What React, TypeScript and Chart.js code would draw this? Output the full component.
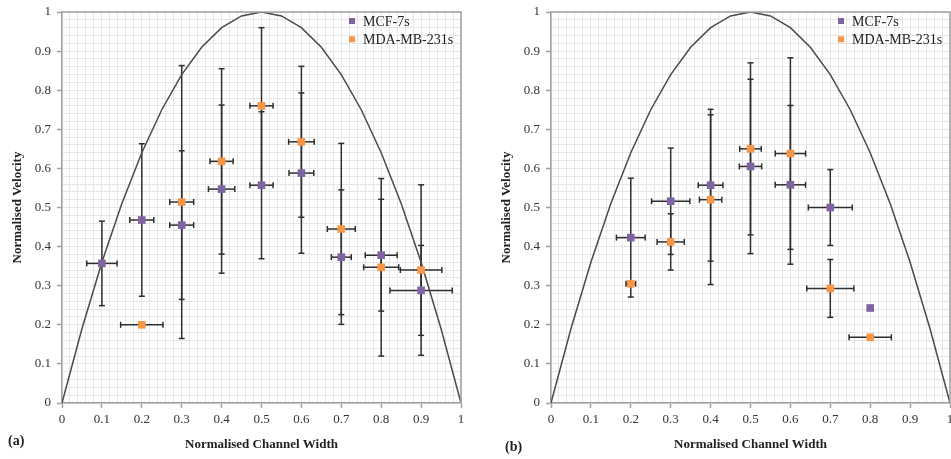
import React, { useEffect, useRef } from "react";
import { Chart, registerables } from "chart.js";

Chart.register(...registerables);

// ---- shared ----
const seriesNames = ["MCF-7s", "MDA-MB-231s"];
const seriesColors = ["#8064A2", "#F79646"];
const tickLabels = ["0", "0.1", "0.2", "0.3", "0.4", "0.5", "0.6", "0.7", "0.8", "0.9", "1"];
const xTitle = "Normalised Channel Width";
const yTitle = "Normalised Velocity";

// theoretical parabolic profile
const curveX = [0, 0.05, 0.1, 0.15, 0.2, 0.25, 0.3, 0.35, 0.4, 0.45, 0.5, 0.55, 0.6, 0.65, 0.7, 0.75, 0.8, 0.85, 0.9, 0.95, 1];
const curveY = [0, 0.19, 0.36, 0.51, 0.64, 0.75, 0.84, 0.91, 0.96, 0.99, 1, 0.99, 0.96, 0.91, 0.84, 0.75, 0.64, 0.51, 0.36, 0.19, 0];

// ---- panel (a) ----
const aMcfX = [0.1, 0.2, 0.3, 0.4, 0.5, 0.6, 0.7, 0.8, 0.9];
const aMcfY = [0.357, 0.468, 0.455, 0.547, 0.557, 0.588, 0.373, 0.378, 0.288];
const aMcfYErr = [0.108, 0.195, 0.19, 0.215, 0.188, 0.205, 0.172, 0.143, 0.115];
const aMcfXErr = [0.038, 0.03, 0.03, 0.033, 0.029, 0.031, 0.025, 0.04, 0.078];
const aMdaX = [0.2, 0.3, 0.4, 0.5, 0.6, 0.7, 0.8, 0.9];
const aMdaY = [0.2, 0.514, 0.618, 0.76, 0.668, 0.445, 0.347, 0.34];
const aMdaYErr = [0, 0.349, 0.237, 0.2, 0.193, 0.219, 0.227, 0.218];
const aMdaXErr = [0.053, 0.03, 0.029, 0.029, 0.032, 0.035, 0.044, 0.052];

// ---- panel (b) ----
const bMcfX = [0.2, 0.3, 0.4, 0.5, 0.6, 0.7, 0.8];
const bMcfY = [0.423, 0.516, 0.557, 0.605, 0.558, 0.5, 0.243];
const bMcfYErr = [0.152, 0.136, 0.194, 0.223, 0.203, 0.097, 0];
const bMcfXErr = [0.036, 0.048, 0.031, 0.028, 0.038, 0.055, 0];
const bMdaX = [0.2, 0.3, 0.4, 0.5, 0.6, 0.7, 0.8];
const bMdaY = [0.305, 0.412, 0.52, 0.65, 0.638, 0.293, 0.168];
const bMdaYErr = [0, 0.072, 0.217, 0.22, 0.245, 0.074, 0];
const bMdaXErr = [0.012, 0.034, 0.028, 0.027, 0.038, 0.059, 0.053];

const FONT = "'Liberation Serif', 'Times New Roman', serif";

const zip = (xs: number[], ys: number[]) => xs.map((x, i) => ({ x, y: ys[i] }));

const isMajor = (v: number) => Math.round(v * 50) % 5 === 0;

const errorBarPlugin = {
  id: "errorBars",
  beforeDatasetsDraw(chart: any) {
    const { ctx, scales } = chart;
    const xs = scales.x;
    const ys = scales.y;
    ctx.save();
    ctx.strokeStyle = "#2e2e2e";
    ctx.lineWidth = 1.5;
    const seg = (x1: number, y1: number, x2: number, y2: number) => {
      ctx.beginPath();
      ctx.moveTo(x1, y1);
      ctx.lineTo(x2, y2);
      ctx.stroke();
    };
    chart.data.datasets.forEach((ds: any) => {
      if (!ds.xErr) return;
      ds.data.forEach((p: any, i: number) => {
        const px = xs.getPixelForValue(p.x);
        const py = ys.getPixelForValue(p.y);
        const ye = ds.yErr[i];
        const xe = ds.xErr[i];
        if (ye > 0) {
          const t = ys.getPixelForValue(p.y + ye);
          const b = ys.getPixelForValue(p.y - ye);
          seg(px, t, px, b);
          seg(px - 3, t, px + 3, t);
          seg(px - 3, b, px + 3, b);
        }
        if (xe > 0) {
          const l = xs.getPixelForValue(p.x - xe);
          const r = xs.getPixelForValue(p.x + xe);
          seg(l, py, r, py);
          seg(l, py - 3, l, py + 3);
          seg(r, py - 3, r, py + 3);
        }
      });
    });
    ctx.restore();
  },
};

const frameLegendPlugin = {
  id: "frameLegend",
  afterDatasetsDraw(chart: any) {
    const { ctx, chartArea } = chart;
    ctx.save();
    ctx.strokeStyle = "#a0a0a0";
    ctx.lineWidth = 1.5;
    ctx.beginPath();
    ctx.moveTo(chartArea.left, chartArea.top);
    ctx.lineTo(chartArea.right, chartArea.top);
    ctx.lineTo(chartArea.right, chartArea.bottom);
    ctx.stroke();
    // legend
    ctx.font = `14px ${FONT}`;
    ctx.textBaseline = "middle";
    ctx.textAlign = "left";
    seriesNames.forEach((name, i) => {
      const mx = chartArea.right - 109;
      const my = chartArea.top + 9 + i * 18.3;
      ctx.fillStyle = seriesColors[i];
      ctx.fillRect(mx - 3, my - 3, 6, 6);
      ctx.fillStyle = "#222";
      ctx.fillText(name, mx + 11, my + 1);
    });
    ctx.restore();
  },
};

type PanelData = {
  mcfX: number[]; mcfY: number[]; mcfXErr: number[]; mcfYErr: number[];
  mdaX: number[]; mdaY: number[]; mdaXErr: number[]; mdaYErr: number[];
};

function makeAxis(isX: boolean, size: number, titlePad: any) {
  return {
    type: "linear",
    min: 0,
    max: 1,
    position: isX ? "bottom" : "left",
    afterFit: (s: any) => {
      if (isX) {
        s.height = size;
        s.paddingLeft = 0;
        s.paddingRight = 0;
      } else {
        s.width = size;
        s.paddingTop = 0;
        s.paddingBottom = 0;
      }
    },
    ticks: {
      stepSize: 0.02,
      maxTicksLimit: 100,
      autoSkip: false,
      maxRotation: 0,
      minRotation: 0,
      padding: isX ? 4 : 6,
      color: "#333",
      font: { family: FONT, size: 13 },
      callback: (v: number) => {
        const k = Math.round(v * 50);
        return k % 5 === 0 ? tickLabels[k / 5] : "";
      },
    },
    grid: {
      color: "#e6e6e6",
      lineWidth: 1,
      drawTicks: true,
      tickLength: 5,
      tickWidth: 1.5,
      tickColor: (c: any) => (c.tick && isMajor(c.tick.value) ? "#a0a0a0" : "rgba(0,0,0,0)"),
    },
    border: { color: "#a0a0a0", width: 1.5 },
    title: {
      display: true,
      text: isX ? xTitle : yTitle,
      color: "#222",
      font: { family: FONT, size: 13, weight: "bold" },
      padding: titlePad,
    },
  };
}

function PanelChart(props: { d: PanelData; left: number; width: number; yAxisW: number; padRight: number; yTitlePad: number }) {
  const ref = useRef<HTMLCanvasElement>(null);
  useEffect(() => {
    const { d } = props;
    const chart = new Chart(ref.current as HTMLCanvasElement, {
      type: "scatter",
      data: {
        datasets: [
          {
            label: seriesNames[0],
            data: zip(d.mcfX, d.mcfY),
            xErr: d.mcfXErr,
            yErr: d.mcfYErr,
            pointStyle: "rect",
            pointRadius: 5.4,
            backgroundColor: seriesColors[0],
            borderColor: seriesColors[0],
            borderWidth: 0,
          } as any,
          {
            label: seriesNames[1],
            data: zip(d.mdaX, d.mdaY),
            xErr: d.mdaXErr,
            yErr: d.mdaYErr,
            pointStyle: "rect",
            pointRadius: 5.4,
            backgroundColor: seriesColors[1],
            borderColor: seriesColors[1],
            borderWidth: 0,
          } as any,
          {
            type: "line",
            label: "profile",
            data: zip(curveX, curveY),
            borderColor: "#4a4a4a",
            borderWidth: 1.5,
            pointRadius: 0,
            tension: 0,
            fill: false,
            showLine: true,
          } as any,
        ],
      },
      options: {
        responsive: false,
        animation: false,
        layout: { autoPadding: false, padding: { left: 0, right: props.padRight, top: 12, bottom: 0 } },
        plugins: { legend: { display: false }, tooltip: { enabled: false } },
        scales: {
          x: makeAxis(true, 56, { top: 0, bottom: 7 }) as any,
          y: makeAxis(false, props.yAxisW, { top: props.yTitlePad, bottom: 0 }) as any,
        },
      },
      plugins: [errorBarPlugin, frameLegendPlugin],
    });
    return () => chart.destroy();
  }, []);
  return (
    <canvas
      ref={ref}
      width={props.width}
      height={459}
      style={{ position: "absolute", left: props.left, top: 0, width: props.width, height: 459 }}
    />
  );
}

const panelA: PanelData = {
  mcfX: aMcfX, mcfY: aMcfY, mcfXErr: aMcfXErr, mcfYErr: aMcfYErr,
  mdaX: aMdaX, mdaY: aMdaY, mdaXErr: aMdaXErr, mdaYErr: aMdaYErr,
};
const panelB: PanelData = {
  mcfX: bMcfX, mcfY: bMcfY, mcfXErr: bMcfXErr, mcfYErr: bMcfYErr,
  mdaX: bMdaX, mdaY: bMdaY, mdaXErr: bMdaXErr, mdaYErr: bMdaYErr,
};

export default function App() {
  const labelStyle: React.CSSProperties = {
    position: "absolute",
    fontFamily: FONT,
    fontSize: 14,
    fontWeight: "bold",
    color: "#222",
    lineHeight: "16px",
  };
  return (
    <div style={{ position: "fixed", left: 0, top: 0, width: 951, height: 459, background: "#fff", overflow: "hidden" }}>
      <PanelChart d={panelA} left={0} width={475} yAxisW={62} padRight={14} yTitlePad={10} />
      <PanelChart d={panelB} left={475} width={476} yAxisW={76} padRight={1} yTitlePad={24} />
      <div style={{ ...labelStyle, left: 8, top: 433 }}>(a)</div>
      <div style={{ ...labelStyle, left: 505, top: 439 }}>(b)</div>
    </div>
  );
}
